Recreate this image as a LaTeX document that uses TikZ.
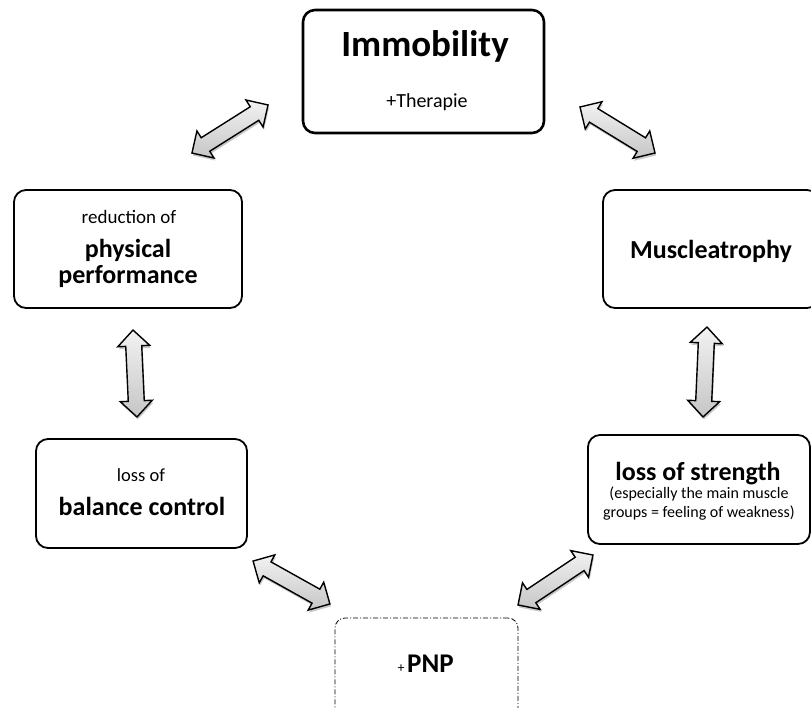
\documentclass[tikz,border=0pt]{standalone}
\usepackage{fontspec}
\setmainfont{Carlito}
\usetikzlibrary{shadows,calc}
\tikzset{
  x=1pt, y=-1pt,
  box/.style={draw=black, line width=1.8pt, rounded corners=12pt, fill=white, inner sep=0pt},
  topbox/.style={box, line width=2.6pt},
  pnpbox/.style={draw=black, line width=0.8pt, rounded corners=10pt, dash pattern=on 5pt off 2pt on 1pt off 2pt, inner sep=0pt},
  lbl/.style={anchor=base, inner sep=0pt},
  arrowbody/.style={draw=black, line width=1.4pt, line join=miter,
    top color=gray!10, bottom color=gray!45,
    drop shadow={shadow xshift=1pt, shadow yshift=-2.5pt, opacity=0.35, fill=black!60}},
  pics/dblarr/.style={code={
    \pgfmathsetmacro\arrhl{#1/2}
    \path[arrowbody] (-\arrhl,0) -- (-\arrhl+16,-16) -- (-\arrhl+16,-8) -- (\arrhl-16,-8)
      -- (\arrhl-16,-16) -- (\arrhl,0) -- (\arrhl-16,16) -- (\arrhl-16,8)
      -- (-\arrhl+16,8) -- (-\arrhl+16,16) -- cycle;
  }},
}
\begin{document}
\begin{tikzpicture}
\useasboundingbox (0,0) rectangle (811,707);
\clip (0,0) rectangle (811,707);
\fill[white] (0,0) rectangle (811,707);

% boxes
\node[topbox, minimum width=241pt, minimum height=123pt] (imm) at (423.5,71.5) {};
\node[box, minimum width=228pt, minimum height=118pt] (phys) at (128,249) {};
\node[box, minimum width=216pt, minimum height=118pt] (musc) at (711,249) {};
\node[box, minimum width=211pt, minimum height=109pt] (bal) at (141.5,493.5) {};
\node[box, minimum width=222pt, minimum height=109pt] (str) at (699,489.5) {};
\node[pnpbox, minimum width=183pt, minimum height=110pt] (pnp) at (426.5,673) {};

% texts
\node[lbl, font=\fontsize{37}{40}\selectfont\bfseries] (immt) at (425,56) {Immobility};
\node[lbl, font=\fontsize{20}{22}\selectfont] (ther) at (427,107) {+Therapie};

\node[lbl, font=\fontsize{19}{21}\selectfont] (redof) at (129,223) {reduction of};
\node[lbl, font=\fontsize{26}{28}\selectfont\bfseries] (physt) at (128,257) {physical};
\node[lbl, font=\fontsize{26}{28}\selectfont\bfseries] (perf) at (128,283) {performance};

\node[lbl, font=\fontsize{26}{28}\selectfont\bfseries] (musct) at (711,258) {Muscleatrophy};

\node[lbl, font=\fontsize{18.5}{20}\selectfont] (lossof) at (141,481) {loss of};
\node[lbl, font=\fontsize{26}{28}\selectfont\bfseries] (balt) at (142,515) {balance control};

\node[lbl, font=\fontsize{26}{28}\selectfont\bfseries] (strt) at (698,480) {loss of strength};
\node[lbl, font=\fontsize{16}{18}\selectfont] (str2) at (699,498) {(especially the main muscle};
\node[lbl, font=\fontsize{16}{18}\selectfont] (str3) at (699,517) {groups = feeling of weakness)};

\node[lbl, font=\fontsize{14}{16}\selectfont] (plus) at (401,672) {+};
\node[lbl, anchor=base west, font=\fontsize{27}{29}\selectfont\bfseries] (pnpt) at (407,672) {PNP};

% arrow end points
\coordinate (a1s) at (192,153); \coordinate (a1e) at (268,105);
\coordinate (a2s) at (580,107); \coordinate (a2e) at (655,153);
\coordinate (a3s) at (133,330); \coordinate (a3e) at (137,417);
\coordinate (a4s) at (707,327); \coordinate (a4e) at (703,417);
\coordinate (a5s) at (253,561); \coordinate (a5e) at (330,604);
\coordinate (a6s) at (518,605); \coordinate (a6e) at (593,555);

\path (a1s) -- pic[sloped, pos=0.5]{dblarr=90} (a1e);
\path (a2s) -- pic[sloped, pos=0.5]{dblarr=88} (a2e);
\path (a3s) -- pic[sloped, pos=0.5]{dblarr=87} (a3e);
\path (a4s) -- pic[sloped, pos=0.5]{dblarr=90} (a4e);
\path (a5s) -- pic[sloped, pos=0.5]{dblarr=88} (a5e);
\path (a6s) -- pic[sloped, pos=0.5]{dblarr=90} (a6e);
\end{tikzpicture}
\end{document}
